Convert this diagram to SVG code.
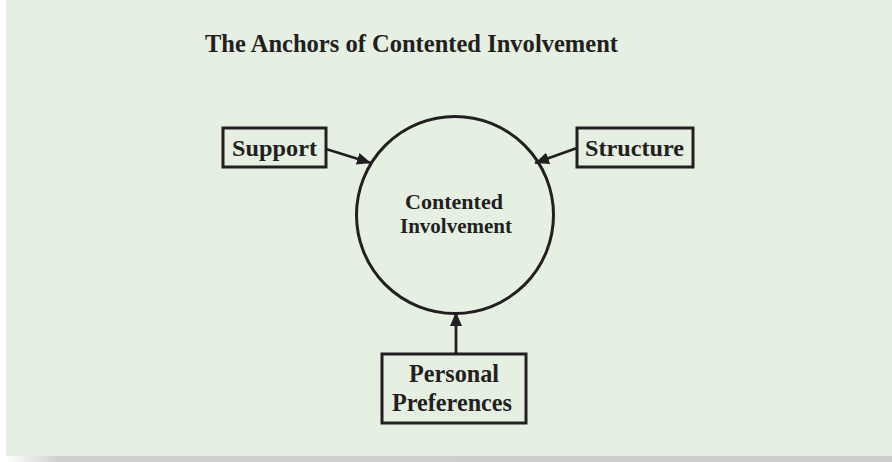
<svg xmlns="http://www.w3.org/2000/svg" width="892" height="462" viewBox="0 0 892 462">
<defs>
<linearGradient id="sh" x1="0" y1="0" x2="1" y2="0">
<stop offset="0" stop-color="#ffffff"/>
<stop offset="0.06" stop-color="#cfcfcf"/>
<stop offset="1" stop-color="#cccccc"/>
</linearGradient>
<marker id="ah" markerWidth="14" markerHeight="12" refX="14" refY="6" orient="auto" markerUnits="userSpaceOnUse" viewBox="0 0 14 12">
<path d="M0,0 L14,6 L0,12 z" fill="#231f20"/>
</marker>
<style>
.box{fill:none;stroke:#231f20;stroke-width:3}
.t{font-family:"Liberation Serif","Times New Roman",serif;font-weight:bold;fill:#231f20;text-anchor:middle}
.c{stroke:#231f20;stroke-width:2.8;fill:none;marker-end:url(#ah)}
</style>
</defs>
<rect x="0" y="0" width="892" height="462" fill="#ffffff"/>
<rect x="6" y="455" width="886" height="7" fill="url(#sh)"/>
<rect x="6" y="0" width="886" height="456" fill="#e5f0e3"/>
<text class="t" x="411.5" y="52" font-size="25.5" textLength="413" lengthAdjust="spacingAndGlyphs">The Anchors of Contented Involvement</text>
<g id="center">
<circle cx="455" cy="215" r="98.5" fill="none" stroke="#231f20" stroke-width="3"/>
<text class="t" x="454" y="209" font-size="20" textLength="98" lengthAdjust="spacingAndGlyphs">Contented</text>
<text class="t" x="456" y="233" font-size="20" textLength="112" lengthAdjust="spacingAndGlyphs">Involvement</text>
</g>
<g id="support">
<rect class="box" x="223" y="128" width="103" height="39"/>
<text class="t" x="274.5" y="156" font-size="24" textLength="85" lengthAdjust="spacingAndGlyphs">Support</text>
</g>
<g id="structure">
<rect class="box" x="577" y="128" width="116" height="39"/>
<text class="t" x="634.5" y="156" font-size="24" textLength="99" lengthAdjust="spacingAndGlyphs">Structure</text>
</g>
<g id="personal">
<rect class="box" x="382" y="354" width="144" height="69"/>
<text class="t" x="454" y="382" font-size="25" textLength="90" lengthAdjust="spacingAndGlyphs">Personal</text>
<text class="t" x="452" y="411" font-size="25" textLength="120" lengthAdjust="spacingAndGlyphs">Preferences</text>
</g>
<g id="connectors">
<line class="c" x1="326" y1="149" x2="371" y2="163"/>
<line class="c" x1="577" y1="148" x2="535" y2="163"/>
<line class="c" x1="456" y1="354" x2="456" y2="312"/>
</g>
</svg>
